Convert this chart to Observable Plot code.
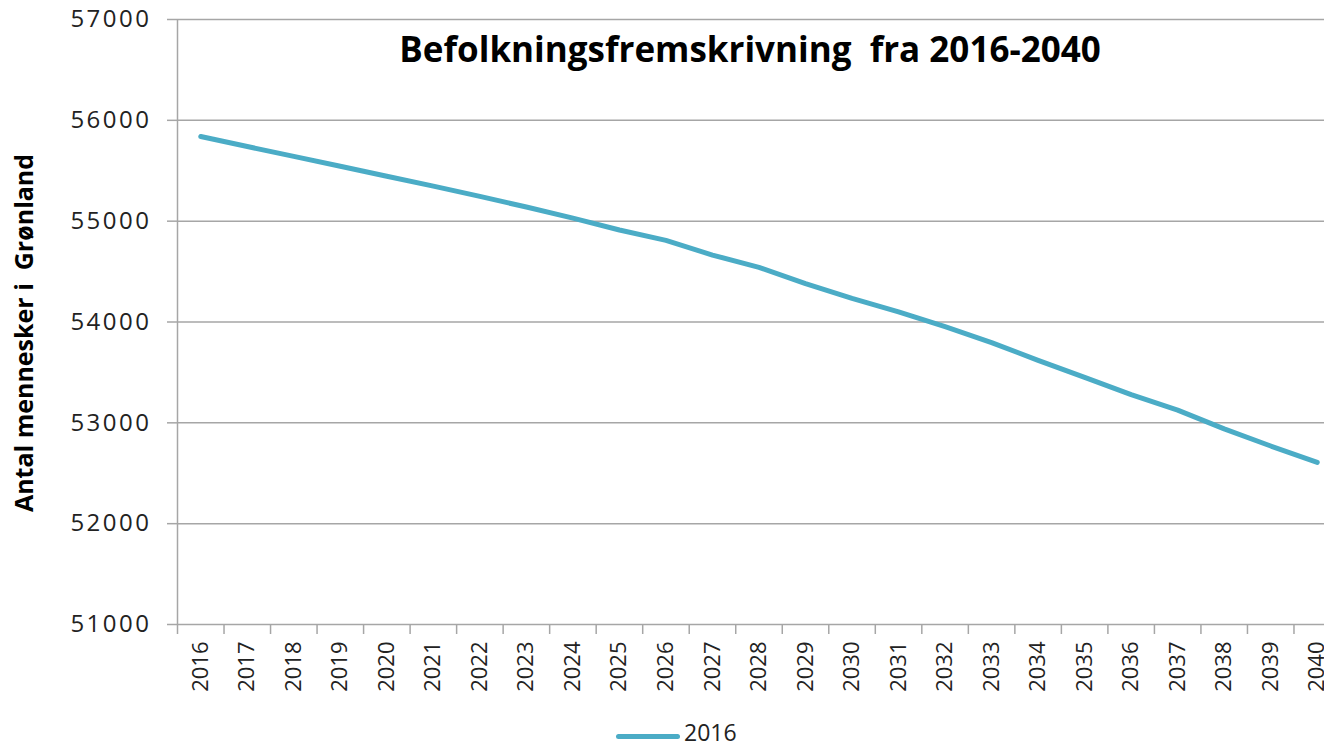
<!DOCTYPE html>
<html><head><meta charset="utf-8">
<script src="https://cdn.jsdelivr.net/npm/d3@7"></script>
<script src="https://cdn.jsdelivr.net/npm/@observablehq/plot@0.6"></script>
<style>
html,body{margin:0;padding:0;background:#fff;overflow:hidden;width:1324px;height:748px;}
#chart{width:1340px;height:715px;}
#legend{position:relative;height:33px;width:1324px;font-family:'Open Sans',sans-serif;font-size:23px;color:#222;}
#legend .sw{position:absolute;left:616px;top:19px;width:64px;height:5px;border-radius:3px;background:#4BACC6;}
#legend .lb{position:absolute;left:684px;top:6px;line-height:23px;}
</style></head><body>
<div id="chart"></div>
<div id="legend"></div>
<script>
const years = ["2016","2017","2018","2019","2020","2021","2022","2023","2024","2025","2026","2027","2028","2029","2030","2031","2032","2033","2034","2035","2036","2037","2038","2039","2040"];
const population = [55840,55740,55643,55545,55446,55348,55246,55140,55030,54912,54810,54664,54542,54380,54234,54101,53953,53795,53620,53450,53280,53126,52940,52770,52607];
const yTicks = [51000,52000,53000,54000,55000,56000,57000];
const titleText = "Befolkningsfremskrivning\u00a0 fra 2016-2040";
const yLabel = "Antal mennesker i\u00a0 Grønland";
const seriesName = "2016";
const seriesColor = "#4BACC6";

const data = years.map((year, i) => ({year, value: population[i]}));

const W = 1340, H = 715, ML = 177, MR = 0;
const bw = (W - ML - MR) / years.length;
const gridColor = "#a6a6a6";

const chart = Plot.plot({
  width: W, height: H,
  marginLeft: ML, marginRight: MR, marginTop: 19, marginBottom: 91,
  style: {fontFamily: "'Open Sans', sans-serif", fontSize: "23px", color: "#222", background: "#fff", overflow: "visible"},
  x: {type: "band", domain: years, padding: 0, align: 0.5, round: false},
  y: {domain: [51000, 57000]},
  marks: [
    Plot.gridY(yTicks, {stroke: gridColor, strokeOpacity: 1, strokeWidth: 1.5}),
    Plot.ruleX([years[0]], {dx: -bw / 2, stroke: gridColor, strokeWidth: 1.5}),
    Plot.ruleX(years, {dx: -bw / 2, y1: 51000, y2: 51000, insetBottom: -10, stroke: gridColor, strokeWidth: 1.5}),
    Plot.axisY(yTicks, {tickSize: 10, tickPadding: 16, label: null, tickFormat: d => String(d), stroke: gridColor, strokeWidth: 1.5, fill: "#222", fontSize: 24}),
    Plot.axisX({tickSize: 0, tickPadding: 17, tickRotate: -90, label: null, fill: "#222", fontSize: 22}),
    Plot.lineY(data, {x: "year", y: "value", stroke: seriesColor, strokeWidth: 5, strokeLinecap: "round", strokeLinejoin: "round"}),
    Plot.text([titleText], {frameAnchor: "top", lineAnchor: "middle", dy: 31, dx: -9, fontWeight: "bold", fontSize: 35, fill: "#000"}),
    Plot.text([yLabel], {frameAnchor: "left", textAnchor: "middle", lineAnchor: "middle", rotate: -90, dx: -153, dy: 11, fontWeight: "bold", fontSize: 25, fill: "#000"})
  ]
});
document.getElementById("chart").appendChild(chart);

// widen the y tick labels slightly (letter spacing), as in the reference
const yTickStrings = new Set(yTicks.map(String));
chart.querySelectorAll("text").forEach(t => {
  if (yTickStrings.has(t.textContent.trim())) t.style.letterSpacing = "2.5px";
});

const legend = document.getElementById("legend");
legend.innerHTML = `<span class="sw"></span><span class="lb">${seriesName}</span>`;
</script>
</body></html>
